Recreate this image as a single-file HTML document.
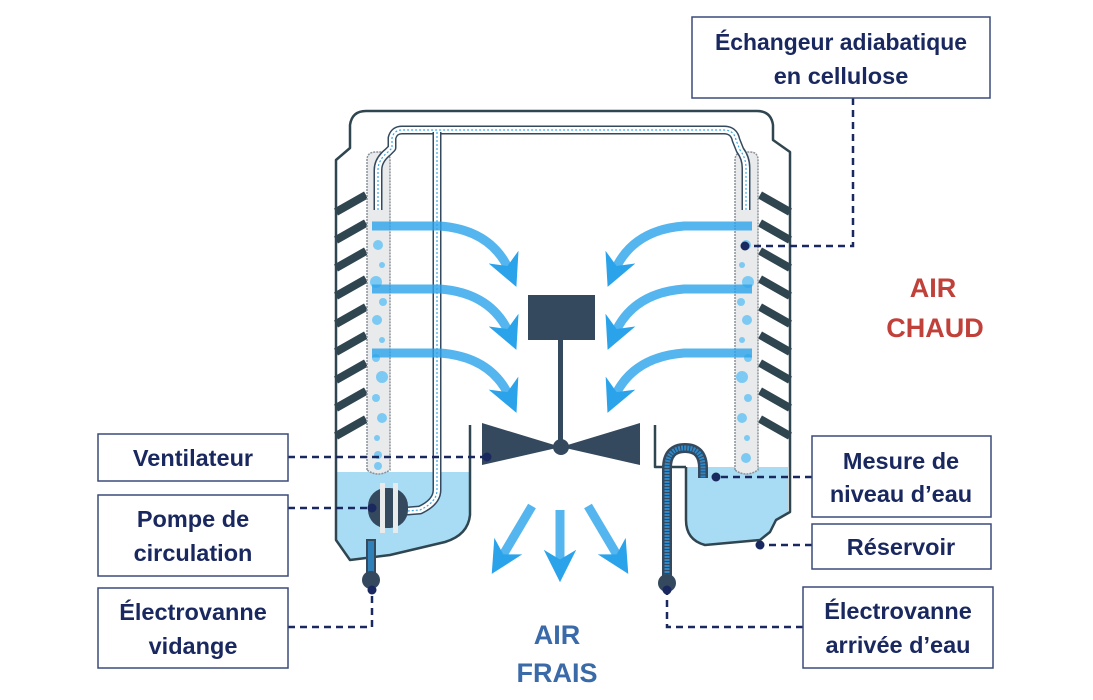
<!DOCTYPE html>
<html><head><meta charset="utf-8"><style>
html,body{margin:0;padding:0;background:#fff;}
svg{display:block;}
text{font-family:"Liberation Sans",sans-serif;font-weight:bold;}
</style></head><body>
<svg width="1093" height="700" viewBox="0 0 1093 700" xmlns="http://www.w3.org/2000/svg">
<defs>
<linearGradient id="rl" x1="0" x2="1"><stop offset="0" stop-color="#c8144e"/><stop offset="1" stop-color="#8a7ec0" stop-opacity="0.5"/></linearGradient>
<linearGradient id="rr" x1="1" x2="0"><stop offset="0" stop-color="#c8144e"/><stop offset="1" stop-color="#8a7ec0" stop-opacity="0.5"/></linearGradient>
<marker id="ah" viewBox="0 0 10 10" refX="5" refY="5" markerWidth="3.6" markerHeight="3.6" orient="auto" markerUnits="strokeWidth"><path d="M0,0 L10,5 L0,10 L3,5 z" fill="#2aa3ea"/></marker>
</defs>

<!-- water -->
<path d="M336,472 L470,472 L470,515 Q468,535 445,542 L390,555 L350,560 L336,540 Z" fill="#a8dcf5"/>
<path d="M686,467 L788,467 L788,512 L776,520 L770,532 L760,540 L705,545 Q686,540 686,520 Z" fill="#a8dcf5"/>

<!-- housing -->
<g fill="none" stroke="#2f4550" stroke-width="2.5" stroke-linejoin="round">
<path d="M336,440 L336,160 L350,148 L350,125 Q352,111 366,111 L757,111 Q771,111 773,125 L773,140 L790,152 L790,512 L776,520 L770,532 L760,540 L705,545 Q686,540 686,520 L686,467"/>
<path d="M336,440 L336,540 L350,560 L390,555 L445,542 Q468,535 470,515 L470,425"/>
<path d="M655,425 L655,467 L686,467"/>
</g>
<!-- fins -->
<g stroke="#2f4550" stroke-width="8" stroke-linecap="butt">
<line x1="336" y1="212" x2="366" y2="195"/><line x1="336" y1="240" x2="366" y2="223"/>
<line x1="336" y1="268" x2="366" y2="251"/><line x1="336" y1="296" x2="366" y2="279"/>
<line x1="336" y1="324" x2="366" y2="307"/><line x1="336" y1="352" x2="366" y2="335"/>
<line x1="336" y1="380" x2="366" y2="363"/><line x1="336" y1="408" x2="366" y2="391"/>
<line x1="336" y1="436" x2="366" y2="419"/>
<line x1="790" y1="212" x2="760" y2="195"/><line x1="790" y1="240" x2="760" y2="223"/>
<line x1="790" y1="268" x2="760" y2="251"/><line x1="790" y1="296" x2="760" y2="279"/>
<line x1="790" y1="324" x2="760" y2="307"/><line x1="790" y1="352" x2="760" y2="335"/>
<line x1="790" y1="380" x2="760" y2="363"/><line x1="790" y1="408" x2="760" y2="391"/>
<line x1="790" y1="436" x2="760" y2="419"/>
</g>
<!-- pads -->
<g fill="#e8eaec" stroke="#8a9299" stroke-width="1.5" stroke-dasharray="2,1">
<path d="M367,470 L367,160 Q367,152 376,152 L382,152 Q390,152 390,160 L390,470 Q378,478 367,470 Z"/>
<path d="M735,470 L735,160 Q735,152 744,152 L750,152 Q758,152 758,160 L758,470 Q746,478 735,470 Z"/>
</g>
<g fill="#7ccaf3">
<circle cx="378" cy="245" r="5"/><circle cx="382" cy="265" r="3"/><circle cx="376" cy="282" r="6"/><circle cx="383" cy="302" r="4"/><circle cx="377" cy="320" r="5"/><circle cx="382" cy="340" r="3"/><circle cx="376" cy="358" r="4"/><circle cx="382" cy="377" r="6"/><circle cx="376" cy="398" r="4"/><circle cx="382" cy="418" r="5"/><circle cx="377" cy="438" r="3"/><circle cx="378" cy="455" r="4"/><circle cx="378" cy="466" r="4"/>
<circle cx="746" cy="245" r="5"/><circle cx="742" cy="265" r="3"/><circle cx="748" cy="282" r="6"/><circle cx="741" cy="302" r="4"/><circle cx="747" cy="320" r="5"/><circle cx="742" cy="340" r="3"/><circle cx="748" cy="358" r="4"/><circle cx="742" cy="377" r="6"/><circle cx="748" cy="398" r="4"/><circle cx="742" cy="418" r="5"/><circle cx="747" cy="438" r="3"/><circle cx="746" cy="458" r="5"/>
</g>
<!-- pipe -->
<g fill="none" stroke-linejoin="round">
<path d="M378,210 L378,170 Q378,160 388,152 L392,148 L392,138 Q394,130 402,130 L724,130 Q734,130 736,140 L740,150 Q746,158 746,168 L746,210" stroke="#34495e" stroke-width="9"/>
<path d="M378,210 L378,170 Q378,160 388,152 L392,148 L392,138 Q394,130 402,130 L724,130 Q734,130 736,140 L740,150 Q746,158 746,168 L746,210" stroke="#fff" stroke-width="6"/>
<path d="M378,210 L378,170 Q378,160 388,152 L392,148 L392,138 Q394,130 402,130 L724,130 Q734,130 736,140 L740,150 Q746,158 746,168 L746,210" stroke="#3aa8e8" stroke-width="1.2" stroke-dasharray="2,2"/>
<path d="M437,132 L437,490 Q437,502 420,510 L395,512" stroke="#34495e" stroke-width="9"/>
<path d="M437,132 L437,490 Q437,502 420,510 L395,512" stroke="#fff" stroke-width="6"/>
<path d="M437,132 L437,490 Q437,502 420,510 L395,512" stroke="#3aa8e8" stroke-width="1.2" stroke-dasharray="2,2"/>
</g>
<!-- pump -->
<rect x="368" y="488" width="40" height="40" rx="18" fill="#34495e"/>
<rect x="380" y="483" width="5" height="50" fill="#e8eaec"/><rect x="393" y="483" width="5" height="50" fill="#e8eaec"/>
<!-- drain valve -->
<rect x="367" y="540" width="8" height="35" fill="#2f80b8" stroke="#34495e" stroke-width="2"/>
<circle cx="371" cy="580" r="9" fill="#34495e"/>
<!-- inlet pipe -->
<path d="M667,585 L667,468 Q667,448 685,448 Q703,448 703,468 L703,478" fill="none" stroke="#34495e" stroke-width="10"/>
<path d="M667,585 L667,468 Q667,448 685,448 Q703,448 703,468 L703,478" fill="none" stroke="#2f88c8" stroke-width="5" stroke-dasharray="2,1"/>
<circle cx="667" cy="583" r="9" fill="#34495e"/>

<!-- red lines -->
<g stroke-width="7" stroke-linecap="round">
<line x1="292" y1="226" x2="372" y2="226" stroke="url(#rl)"/><line x1="292" y1="289" x2="372" y2="289" stroke="url(#rl)"/><line x1="292" y1="353" x2="372" y2="353" stroke="url(#rl)"/>
<line x1="832" y1="226" x2="752" y2="226" stroke="url(#rr)"/><line x1="832" y1="289" x2="752" y2="289" stroke="url(#rr)"/><line x1="832" y1="353" x2="752" y2="353" stroke="url(#rr)"/>
</g>
<!-- air arrows -->
<g fill="none" stroke="#2aa3ea" stroke-opacity="0.8" stroke-width="9" marker-end="url(#ah)">
<path d="M372,226 L440,226 Q492,230 510,272"/>
<path d="M372,289 L440,289 Q492,293 510,335"/>
<path d="M372,353 L440,353 Q492,357 510,398"/>
<path d="M752,226 L684,226 Q632,230 614,272"/>
<path d="M752,289 L684,289 Q632,293 614,335"/>
<path d="M752,353 L684,353 Q632,357 614,398"/>
<path d="M532,506 L500,560"/>
<path d="M560,510 L560,566"/>
<path d="M588,506 L620,560"/>
</g>
<!-- fan -->
<rect x="528" y="295" width="67" height="45" fill="#34495e"/>
<rect x="558" y="340" width="5" height="105" fill="#34495e"/>
<polygon points="482,423 482,465 561,447" fill="#34495e"/>
<polygon points="640,423 640,465 561,447" fill="#34495e"/>
<circle cx="561" cy="447" r="8" fill="#34495e"/>

<!-- connectors -->
<g fill="none" stroke="#1a2860" stroke-width="2.5" stroke-dasharray="7,5">
<path d="M288,457 L487,457"/>
<path d="M288,508 L372,508"/>
<path d="M288,627 L372,627 L372,590"/>
<path d="M853,98 L853,246 L745,246"/>
<path d="M812,477 L716,477"/>
<path d="M812,545 L760,545"/>
<path d="M803,627 L667,627 L667,590"/>
</g>
<g fill="#1a2860">
<circle cx="487" cy="457" r="4.5"/><circle cx="372" cy="508" r="4.5"/><circle cx="372" cy="590" r="4.5"/>
<circle cx="745" cy="246" r="4.5"/><circle cx="716" cy="477" r="4.5"/><circle cx="760" cy="545" r="4.5"/><circle cx="667" cy="590" r="4.5"/>
</g>

<!-- label boxes -->
<g fill="#fff" stroke="#3a4a7a" stroke-width="1.5">
<rect x="98" y="434" width="190" height="47"/>
<rect x="98" y="495" width="190" height="81"/>
<rect x="98" y="588" width="190" height="80"/>
<rect x="692" y="17" width="298" height="81"/>
<rect x="812" y="436" width="179" height="81"/>
<rect x="812" y="524" width="179" height="45"/>
<rect x="803" y="587" width="190" height="81"/>
</g>
<g fill="#1a2860" font-size="23.5" text-anchor="middle">
<text x="193" y="466">Ventilateur</text>
<text x="193" y="527">Pompe de</text><text x="193" y="561">circulation</text>
<text x="193" y="620">Électrovanne</text><text x="193" y="654">vidange</text>
<text x="841" y="50" textLength="252" lengthAdjust="spacingAndGlyphs">Échangeur adiabatique</text><text x="841" y="84">en cellulose</text>
<text x="901" y="469">Mesure de</text><text x="901" y="502">niveau d’eau</text>
<text x="901" y="555">Réservoir</text>
<text x="898" y="619">Électrovanne</text><text x="898" y="653">arrivée d’eau</text>
</g>
<g font-size="27" text-anchor="middle">
<text x="933" y="297" fill="#c0403a">AIR</text><text x="935" y="337" fill="#c0403a">CHAUD</text>
<text x="557" y="644" fill="#3a6aa8">AIR</text><text x="557" y="682" fill="#3a6aa8">FRAIS</text>
</g>
</svg>
</body></html>
